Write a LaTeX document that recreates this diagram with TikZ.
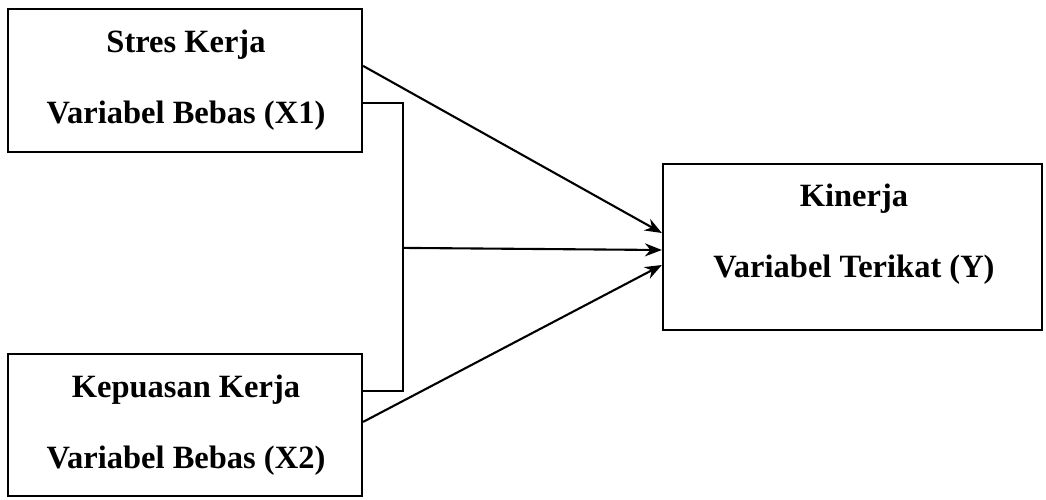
\documentclass[tikz,border=0pt]{standalone}
\usepackage{fontspec}
\setmainfont{Liberation Serif}
\usetikzlibrary{arrows.meta,calc}
\begin{document}
\begin{tikzpicture}[x=1pt,y=-1pt,
  varbox/.style={draw=black,line width=2.2pt,rectangle,inner sep=0pt},
  vartext/.style={align=center,font=\fontsize{32.5}{71}\selectfont\bfseries,inner sep=0pt},
  conn/.style={draw=black,line width=2.1pt},
  arr/.style={conn,-{Stealth[length=17pt,width=13pt]}}]
\useasboundingbox (0,0) rectangle (1046,500);
\fill[white] (0,0) rectangle (1046,500);
% boxes
\node[varbox,minimum width=354pt,minimum height=143pt] (x1) at (185,80.5) {};
\node[varbox,minimum width=354pt,minimum height=142pt] (x2) at (185,425) {};
\node[varbox,minimum width=379pt,minimum height=166pt] (y) at (852.5,247) {};
% texts
\node[vartext] (t1) at (186,80) {Stres Kerja\\Variabel Bebas (X1)};
\node[vartext] (t2) at (186,425) {Kepuasan Kerja\\Variabel Bebas (X2)};
\node[vartext] (t3) at (854,234) {Kinerja\\Variabel Terikat (Y)};
% connection points
\coordinate (a1) at ([yshift=-58pt]x1.north east);
\coordinate (b1) at ([yshift=-95pt]x1.north east);
\coordinate (b2) at ([yshift=-38pt]x2.north east);
\coordinate (a2) at ([yshift=-69pt]x2.north east);
\coordinate (bt) at ($(b1)+(40,0)$);
\coordinate (bb) at ($(b2)+(40,0)$);
\coordinate (j) at ($(bt)+(0,145)$);
\coordinate (e1) at ([yshift=14pt]y.west);
\coordinate (e2) at ([yshift=-3pt]y.west);
\coordinate (e3) at ([yshift=-18pt]y.west);
% connectors
\draw[arr] (a1) -- (e1);
\draw[conn] (b1) -- (bt) -- (bb) -- (b2);
\draw[arr] (j) -- (e2);
\draw[arr] (a2) -- (e3);
\end{tikzpicture}
\end{document}
